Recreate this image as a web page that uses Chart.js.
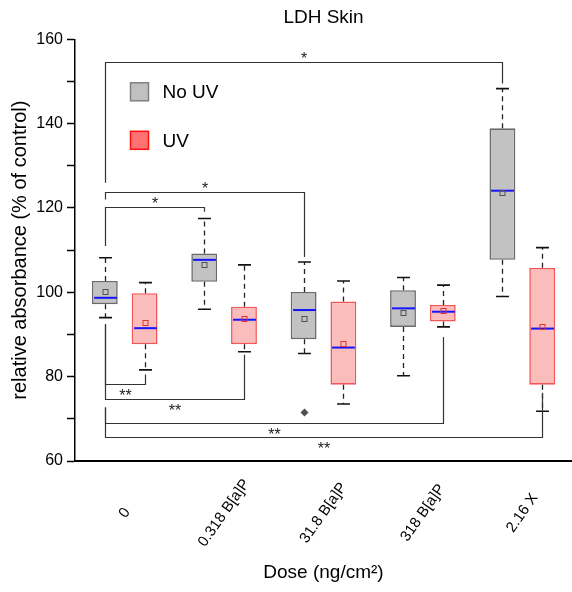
<!DOCTYPE html>
<html>
<head>
<meta charset="utf-8">
<title>LDH Skin</title>
<script src="https://cdn.jsdelivr.net/npm/chart.js@4.4.1/dist/chart.umd.min.js"></script>
<style>
  html, body { margin: 0; padding: 0; background: #fff; }
  #wrap { width: 572px; height: 592px; }
</style>
</head>
<body>
<div id="wrap"><canvas id="chart" width="572" height="592"></canvas></div>
<script>
// dose groups on the x axis
const doses = ['0', '0.318 B[a]P', '31.8 B[a]P', '318 B[a]P', '2.16 X'];

// No UV: whisker ends, quartiles, median, mean
const noUvMin = [94.0, 96.0, 85.5, 80.2, 99.0];
const noUvQ1 = [97.2, 102.5, 88.9, 91.8, 107.7];
const noUvMedian = [98.7, 107.7, 95.8, 96.2, 124.1];
const noUvQ3 = [102.7, 109.2, 100.1, 100.5, 138.9];
const noUvMax = [108.2, 117.5, 107.2, 103.5, 148.3];
const noUvMean = [100.0, 106.5, 93.6, 95.2, 123.6];
const noUvOutliers = [[], [], [71.5], [], []];

// UV
const uvMin = [81.6, 85.9, 73.5, 91.8, 71.8];
const uvQ1 = [87.7, 87.7, 78.1, 93.1, 78.1];
const uvMedian = [91.5, 93.5, 86.9, 95.4, 91.4];
const uvQ3 = [99.8, 96.6, 97.8, 97.0, 105.8];
const uvMax = [102.3, 106.5, 102.7, 101.7, 110.6];
const uvMean = [92.7, 93.6, 87.7, 95.6, 91.7];
const uvOutliers = [[], [], [], [], []];

// y axis range and label step
const yMin = 60, yMax = 160, yLabelStep = 20;

// significance brackets: from/to = [dose index, series index], level and leg ends in y units
const brackets = [
  { from: [0, 0], to: [4, 0], level: 154.6, ends: [126.0, 149.5], text: '*', side: 'up' },
  { from: [0, 0], to: [2, 0], level: 123.8, ends: [122.0, 108.4], text: '*', side: 'up' },
  { from: [0, 0], to: [1, 0], level: 120.3, ends: [111.0, 119.1], text: '*', side: 'up' },
  { from: [0, 0], to: [0, 1], level: 78.3, ends: [92.4, 80.5], text: '**', side: 'down' },
  { from: [0, 0], to: [1, 1], level: 74.8, ends: [92.4, 85.2], text: '**', side: 'down' },
  { from: [0, 0], to: [3, 1], level: 69.1, ends: [72.7, 89.4], text: '**', side: 'down' },
  { from: [0, 0], to: [4, 1], level: 65.6, ends: [72.7, 76.2], text: '**', side: 'down' }
];

const series = [
  {
    label: 'No UV', min: noUvMin, q1: noUvQ1, median: noUvMedian, q3: noUvQ3, max: noUvMax,
    mean: noUvMean, outliers: noUvOutliers,
    fill: '#c2c2c2', edge: '#6a6a6a', meanColor: '#505050',
    legendFill: '#c0c0c0', legendEdge: '#808080'
  },
  {
    label: 'UV', min: uvMin, q1: uvQ1, median: uvMedian, q3: uvQ3, max: uvMax,
    mean: uvMean, outliers: uvOutliers,
    fill: '#fbbcbc', edge: '#f25656', meanColor: '#e53030',
    legendFill: '#ff7272', legendEdge: '#ff1010'
  }
];

const FONT = "'Liberation Sans', Arial, Helvetica, sans-serif";
Chart.defaults.font.family = FONT;
Chart.defaults.color = '#000';

// whiskers, medians, means and outliers on top of the floating bars
const boxExtras = {
  id: 'boxExtras',
  afterDatasetsDraw(chart) {
    const { ctx, scales: { y } } = chart;
    series.forEach((s, di) => {
      chart.getDatasetMeta(di).data.forEach((bar, i) => {
        const x = Math.round(bar.x) + 0.5;
        const half = bar.width / 2;
        const pMin = y.getPixelForValue(s.min[i]);
        const pMax = y.getPixelForValue(s.max[i]);
        const pQ1 = y.getPixelForValue(s.q1[i]);
        const pQ3 = y.getPixelForValue(s.q3[i]);
        ctx.save();
        // dashed whiskers
        ctx.strokeStyle = '#222';
        ctx.lineWidth = 1.3;
        ctx.setLineDash([5, 4]);
        ctx.beginPath();
        ctx.moveTo(x, pQ3); ctx.lineTo(x, pMax);
        ctx.moveTo(x, pQ1); ctx.lineTo(x, pMin);
        ctx.stroke();
        // caps
        ctx.setLineDash([]);
        ctx.lineWidth = 1.6;
        ctx.strokeStyle = '#111';
        ctx.beginPath();
        ctx.moveTo(x - half / 2, pMax); ctx.lineTo(x + half / 2, pMax);
        ctx.moveTo(x - half / 2, pMin); ctx.lineTo(x + half / 2, pMin);
        ctx.stroke();
        // median
        const pMed = y.getPixelForValue(s.median[i]);
        ctx.strokeStyle = '#1414ff';
        ctx.lineWidth = 2;
        ctx.beginPath();
        ctx.moveTo(x - half + 1.5, pMed); ctx.lineTo(x + half - 1.5, pMed);
        ctx.stroke();
        // mean
        const pMean = y.getPixelForValue(s.mean[i]);
        ctx.strokeStyle = s.meanColor;
        ctx.lineWidth = 1;
        ctx.strokeRect(x - 2.5, Math.round(pMean) - 2.5, 5, 5);
        // outliers
        ctx.fillStyle = '#505050';
        s.outliers[i].forEach(v => {
          const p = y.getPixelForValue(v);
          ctx.beginPath();
          ctx.moveTo(x, p - 4); ctx.lineTo(x + 4, p); ctx.lineTo(x, p + 4); ctx.lineTo(x - 4, p);
          ctx.closePath();
          ctx.fill();
        });
        ctx.restore();
      });
    });
  }
};

// brackets, legend and rotated dose labels
const annotations = {
  id: 'annotations',
  afterDraw(chart) {
    const { ctx, chartArea, scales: { x, y } } = chart;
    const px = ([cat, set]) => Math.round(chart.getDatasetMeta(set).data[cat].x) + 0.5;
    ctx.save();

    ctx.strokeStyle = '#333';
    ctx.lineWidth = 1.2;
    ctx.fillStyle = '#222';
    ctx.font = '16px ' + FONT;
    ctx.textAlign = 'center';
    ctx.textBaseline = 'alphabetic';
    brackets.forEach(b => {
      const x1 = px(b.from), x2 = px(b.to);
      const py = Math.round(y.getPixelForValue(b.level)) + 0.5;
      ctx.beginPath();
      ctx.moveTo(x1, y.getPixelForValue(b.ends[0]));
      ctx.lineTo(x1, py);
      ctx.lineTo(x2, py);
      ctx.lineTo(x2, y.getPixelForValue(b.ends[1]));
      ctx.stroke();
      const ty = b.side === 'up' ? py + 1 : py + 16;
      ctx.fillText(b.text, (x1 + x2) / 2, ty);
    });

    // legend
    ctx.font = '19px ' + FONT;
    ctx.textAlign = 'left';
    ctx.textBaseline = 'middle';
    series.forEach((s, i) => {
      const bx = chartArea.left + 55.5;
      const by = chartArea.top + 43.5 + i * 48.5;
      ctx.fillStyle = s.legendFill;
      ctx.fillRect(bx, by, 18, 18);
      ctx.strokeStyle = s.legendEdge;
      ctx.lineWidth = 1.5;
      ctx.strokeRect(bx, by, 18, 18);
      ctx.fillStyle = '#000';
      ctx.fillText(s.label, bx + 32, by + 10);
    });

    // dose labels, rotated about their centres
    ctx.font = '15px ' + FONT;
    ctx.textAlign = 'center';
    ctx.textBaseline = 'middle';
    chart.data.labels.forEach((lab, i) => {
      ctx.save();
      ctx.translate(x.getPixelForValue(i), chartArea.bottom + 52);
      ctx.rotate(-55 * Math.PI / 180);
      ctx.fillText(lab, 0, 0);
      ctx.restore();
    });
    ctx.restore();
  }
};

new Chart(document.getElementById('chart'), {
  type: 'bar',
  data: {
    labels: doses,
    datasets: series.map(s => ({
      label: s.label,
      data: s.q1.map((v, i) => [v, s.q3[i]]),
      backgroundColor: s.fill,
      borderColor: s.edge,
      borderWidth: 1.6,
      borderSkipped: false,
      categoryPercentage: 0.8,
      barPercentage: 0.65
    }))
  },
  options: {
    responsive: false,
    animation: false,
    layout: { padding: { left: 0, right: -3, top: 0, bottom: 0 } },
    plugins: {
      legend: { display: false },
      tooltip: { enabled: false },
      title: {
        display: true,
        text: 'LDH Skin',
        fullSize: false,
        font: { size: 19, weight: 'normal' },
        color: '#000',
        padding: { top: 6, bottom: 10.5 }
      }
    },
    scales: {
      x: {
        type: 'category',
        offset: true,
        grid: { display: false },
        border: { display: true, color: '#000', width: 2 },
        ticks: { display: false },
        afterFit(scale) { scale.height = 131; },
        title: {
          display: true,
          text: 'Dose (ng/cm²)',
          font: { size: 19 },
          color: '#000',
          padding: { top: 0, bottom: 8 }
        }
      },
      y: {
        min: yMin,
        max: yMax,
        afterFit(scale) { scale.width = 75; },
        border: { display: true, color: '#000', width: 1.5 },
        grid: {
          drawOnChartArea: false,
          drawTicks: true,
          tickLength: 8,
          tickColor: '#000',
          tickWidth: 1.5
        },
        ticks: {
          stepSize: 10,
          autoSkip: false,
          padding: 4,
          font: { size: 16 },
          color: '#000',
          callback: v => (v % yLabelStep === 0 ? v : '')
        },
        title: {
          display: true,
          text: 'relative absorbance (% of control)',
          font: { size: 20 },
          color: '#000',
          padding: { top: 8, bottom: 0 }
        }
      }
    }
  },
  plugins: [boxExtras, annotations]
});
</script>
</body>
</html>
